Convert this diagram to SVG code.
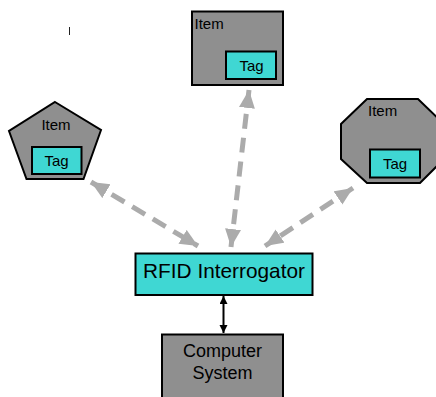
<svg xmlns="http://www.w3.org/2000/svg" width="436" height="397" viewBox="0 0 436 397">
<defs>
<style>
.item{fill:#8f8f8f;stroke:#000;stroke-width:2}
.tag{fill:#3fd7d3;stroke:#000;stroke-width:2}
.t{font-family:"Liberation Sans",Arial,sans-serif;fill:#000}
.sm{font-size:15px}
.tg{font-size:15px;text-anchor:middle}
.dash{fill:none;stroke:#ababab;stroke-width:5;stroke-dasharray:15 9}
.link{fill:none;stroke:#000;stroke-width:2}
</style>
<marker id="ga" markerUnits="userSpaceOnUse" markerWidth="20" markerHeight="18" refX="18" refY="8" orient="auto-start-reverse" viewBox="0 0 20 18">
<path d="M0,0 L18,8 L0,16 z" fill="#ababab"/>
</marker>
<marker id="ba" markerUnits="userSpaceOnUse" markerWidth="10" markerHeight="10" refX="8" refY="4" orient="auto-start-reverse" viewBox="0 0 10 10">
<path d="M0,0 L8,4 L0,8 z" fill="#000"/>
</marker>
</defs>
<rect width="436" height="397" fill="#fff"/>
<line x1="69.5" y1="27" x2="69.5" y2="35" stroke="#222" stroke-width="1"/>

<g id="connectors">
<path class="dash" d="M91,182 L198,246" marker-start="url(#ga)" marker-end="url(#ga)"/>
<path class="dash" d="M249,90 L231,247" marker-start="url(#ga)" marker-end="url(#ga)"/>
<path class="dash" d="M353,188 L265,246" marker-start="url(#ga)" marker-end="url(#ga)"/>
<path class="link" d="M223.5,296 L223.5,333" marker-start="url(#ba)" marker-end="url(#ba)"/>
</g>

<g id="item-top">
<rect class="item" x="192" y="11.5" width="91" height="73.5"/>
<text class="t sm" x="194.5" y="29.3">Item</text>
<g id="tag-top">
<rect class="tag" x="226" y="51.5" width="50" height="27.5"/>
<text class="t tg" x="251.5" y="71">Tag</text>
</g>
</g>

<g id="item-left">
<polygon class="item" points="55,102 101,130 83.5,179 26.5,179 9,131"/>
<text class="t sm" x="56" y="130" text-anchor="middle">Item</text>
<g id="tag-left">
<rect class="tag" x="32" y="147" width="49.5" height="27"/>
<text class="t tg" x="56.5" y="166">Tag</text>
</g>
</g>

<g id="item-right">
<polygon class="item" points="367,99 418,99 444,124 444,159 420,183 367,183 341,159 341,124"/>
<text class="t sm" x="368" y="115.5">Item</text>
<g id="tag-right">
<rect class="tag" x="370" y="149.5" width="50" height="28"/>
<text class="t tg" x="395" y="169">Tag</text>
</g>
</g>

<g id="rfid">
<rect class="tag" x="135.5" y="253.5" width="177" height="41.5"/>
<text class="t" x="224" y="277.5" font-size="20.8" text-anchor="middle">RFID Interrogator</text>
</g>

<g id="computer">
<rect class="item" x="162" y="334.5" width="121" height="70"/>
<text class="t" x="222.5" y="357" font-size="18" text-anchor="middle">Computer</text>
<text class="t" x="222.5" y="379" font-size="18" text-anchor="middle">System</text>
</g>
</svg>
